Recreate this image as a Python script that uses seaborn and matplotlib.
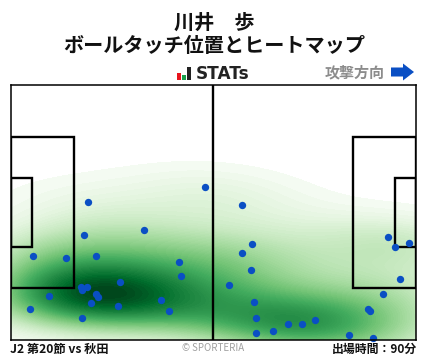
import matplotlib
matplotlib.use('Agg')
import matplotlib.pyplot as plt
from matplotlib.patches import Rectangle, FancyArrow
import seaborn as sns

sns.set_style('white')
plt.rcParams['font.family'] = ['Noto Sans CJK JP', 'DejaVu Sans']

# touch positions on a 105 x 68 pitch
touch_x = [50.2, 20.1, 19.1, 34.6, 5.9, 14.4, 22.0, 43.5, 44.0, 28.4, 18.1, 18.6, 19.9, 22.0, 22.7,
           10.0, 5.1, 20.9, 27.9, 39.0, 40.9, 18.6,
           59.8, 62.6, 59.8, 62.1, 56.4, 62.9, 63.6, 63.6, 67.8, 71.9, 75.3, 78.7, 87.7, 93.7,
           92.6, 92.9, 96.5, 100.7, 97.6, 99.4, 103.0]
touch_y = [40.9, 36.9, 27.9, 29.2, 22.5, 22.0, 22.3, 20.9, 17.0, 15.6, 14.3, 13.5, 14.3, 12.4, 11.6,
           11.9, 8.2, 9.8, 9.2, 10.8, 7.9, 5.8,
           36.1, 25.5, 23.3, 18.8, 14.8, 10.3, 5.8, 2.0, 2.6, 4.4, 4.4, 5.5, 1.3, 0.5,
           8.4, 7.9, 12.4, 16.2, 27.6, 24.7, 26.0]

title_name = '川井\u3000歩'
title_sub = 'ボールタッチ位置とヒートマップ'
match_label = 'J2 第20節 vs 秋田'
minutes_label = '出場時間：90分'

fig = plt.figure(figsize=(4.28, 3.59), dpi=100)
ax = fig.add_axes([10.6 / 428, 1 - 340.3 / 359, 405.7 / 428, 255.7 / 359])

# heatmap
sns.kdeplot(x=touch_x, y=touch_y, fill=True, cmap='Greens', levels=80, thresh=0.012,
            bw_adjust=1.08, gridsize=200, cut=8, clip=((0, 105), (0, 68)), ax=ax, zorder=1)

# pitch lines
line = dict(fill=False, edgecolor='black', linewidth=1.7, zorder=3)
ax.add_patch(Rectangle((0, 13.84), 16.5, 40.32, **line))
ax.add_patch(Rectangle((0, 24.84), 5.5, 18.32, **line))
ax.add_patch(Rectangle((88.5, 13.84), 16.5, 40.32, **line))
ax.add_patch(Rectangle((99.5, 24.84), 5.5, 18.32, **line))
ax.plot([52.5, 52.5], [0, 68], color='black', lw=1.7, zorder=3)

sns.scatterplot(x=touch_x, y=touch_y, color='#0a4fc4', s=28, linewidth=0, zorder=4, ax=ax, clip_on=False)

ax.set_xlim(0, 105)
ax.set_ylim(0, 68)
ax.set_xticks([])
ax.set_yticks([])
ax.set_xlabel('')
ax.set_ylabel('')
for s in ax.spines.values():
    s.set_visible(True)
    s.set_color('black')
    s.set_linewidth(1.1)
    s.set_zorder(5)

# titles
fig.text(214 / 428, 1 - 22 / 359, title_name, ha='center', va='center', fontsize=14.5, fontweight='bold', color='#111111')
fig.text(214 / 428, 1 - 46 / 359, title_sub, ha='center', va='center', fontsize=14.5, fontweight='bold', color='#111111')

# STATs logo
for px, h, c in [(177, 7, '#e8141c'), (182, 5, '#1aa04a'), (187, 13, '#222222')]:
    fig.add_artist(Rectangle((px / 428, 1 - 80 / 359), 4 / 428, h / 359, transform=fig.transFigure, color=c, lw=0))
fig.text(196 / 428, 1 - 74 / 359, 'STATs', ha='left', va='center', fontsize=12.2, fontweight='bold',
         color='#222222', family='DejaVu Sans')

# attack direction
fig.text(385 / 428, 1 - 72 / 359, '攻撃方向', ha='right', va='center', fontsize=10.8, fontweight='bold', color='#8c8c8c')
fig.add_artist(FancyArrow(391 / 428, 1 - 72 / 359, 23 / 428, 0, width=9 / 359, head_width=17 / 359,
                          head_length=11 / 428, length_includes_head=True, color='#0a4fc4', lw=0,
                          transform=fig.transFigure))

# footer
fig.text(10 / 428, 1 - 349 / 359, match_label, ha='left', va='center', fontsize=8.8, fontweight='bold', color='#111111')
fig.text(213 / 428, 1 - 348 / 359, '© SPORTERIA', ha='center', va='center', fontsize=7, color='#a0a0a0')
fig.text(417 / 428, 1 - 349 / 359, minutes_label, ha='right', va='center', fontsize=8.55, fontweight='bold', color='#111111')

fig.savefig('out.png', dpi=100)
